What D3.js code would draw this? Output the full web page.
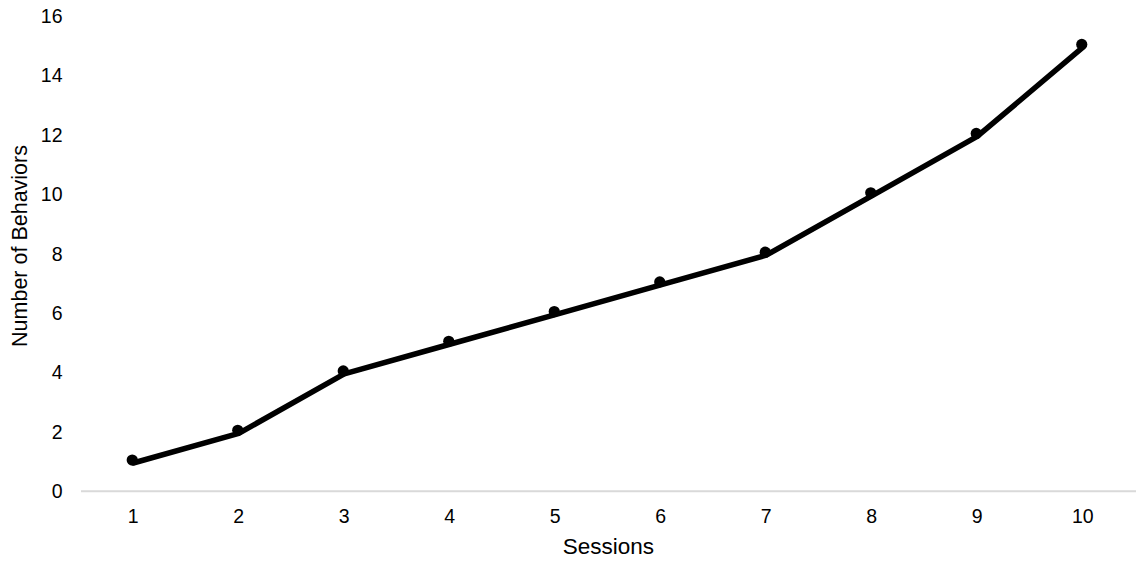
<!DOCTYPE html>
<html>
<head>
<meta charset="utf-8">
<script src="https://cdn.jsdelivr.net/npm/d3@7"></script>
<style>
  body { margin: 0; background: #fff; }
  text { font-family: "Liberation Sans", Arial, Helvetica, sans-serif; fill: #000; }
</style>
</head>
<body>
<script>
var sessions = ["1", "2", "3", "4", "5", "6", "7", "8", "9", "10"];
var behaviors = [1, 2, 4, 5, 6, 7, 8, 10, 12, 15];
var yTicks = [0, 2, 4, 6, 8, 10, 12, 14, 16];

var width = 1140, height = 562;

var svg = d3.select("body").append("svg")
    .attr("width", width)
    .attr("height", height);

var x = d3.scaleBand()
    .domain(sessions)
    .range([80.5, 1135.5])
    .padding(0);

var y = d3.scaleLinear()
    .domain([0, 16])
    .range([490.7, 15.7]);

// y tick labels (no axis line)
var yAxis = svg.append("g")
    .attr("transform", "translate(62.5,0)")
    .call(d3.axisLeft(y).tickValues(yTicks).tickSize(0).tickPadding(0));
yAxis.select(".domain").remove();
yAxis.selectAll("text")
    .style("font-size", "19.5px")
    .attr("dy", "0.35em");

// x axis
var xAxis = svg.append("g")
    .attr("transform", "translate(0," + y(0) + ")")
    .call(d3.axisBottom(x).tickSize(0).tickPadding(18));
xAxis.select(".domain")
    .attr("stroke", "#d9d9d9")
    .attr("stroke-width", 2);
xAxis.selectAll("text")
    .style("font-size", "19.5px");

// axis titles
svg.append("text")
    .attr("x", 608.3)
    .attr("y", 553.5)
    .attr("text-anchor", "middle")
    .style("font-size", "22.5px")
    .text("Sessions");

svg.append("text")
    .attr("transform", "translate(26.5,246) rotate(-90)")
    .attr("text-anchor", "middle")
    .style("font-size", "21.5px")
    .text("Number of Behaviors");

var line = d3.line()
    .x(function(d, i) { return x(sessions[i]) + x.bandwidth() / 2; })
    .y(function(d) { return y(d); });

svg.append("path")
    .datum(behaviors)
    .attr("fill", "none")
    .attr("stroke", "#000")
    .attr("stroke-width", 5.5)
    .attr("stroke-linejoin", "round")
    .attr("stroke-linecap", "round")
    .attr("transform", "translate(0,2)")
    .attr("d", line);

svg.append("g")
    .attr("transform", "translate(-1,-1)")
    .selectAll("circle")
    .data(behaviors)
    .enter()
    .append("circle")
    .attr("cx", function(d, i) { return x(sessions[i]) + x.bandwidth() / 2; })
    .attr("cy", function(d) { return y(d); })
    .attr("r", 5.6)
    .attr("fill", "#000");
</script>
</body>
</html>
